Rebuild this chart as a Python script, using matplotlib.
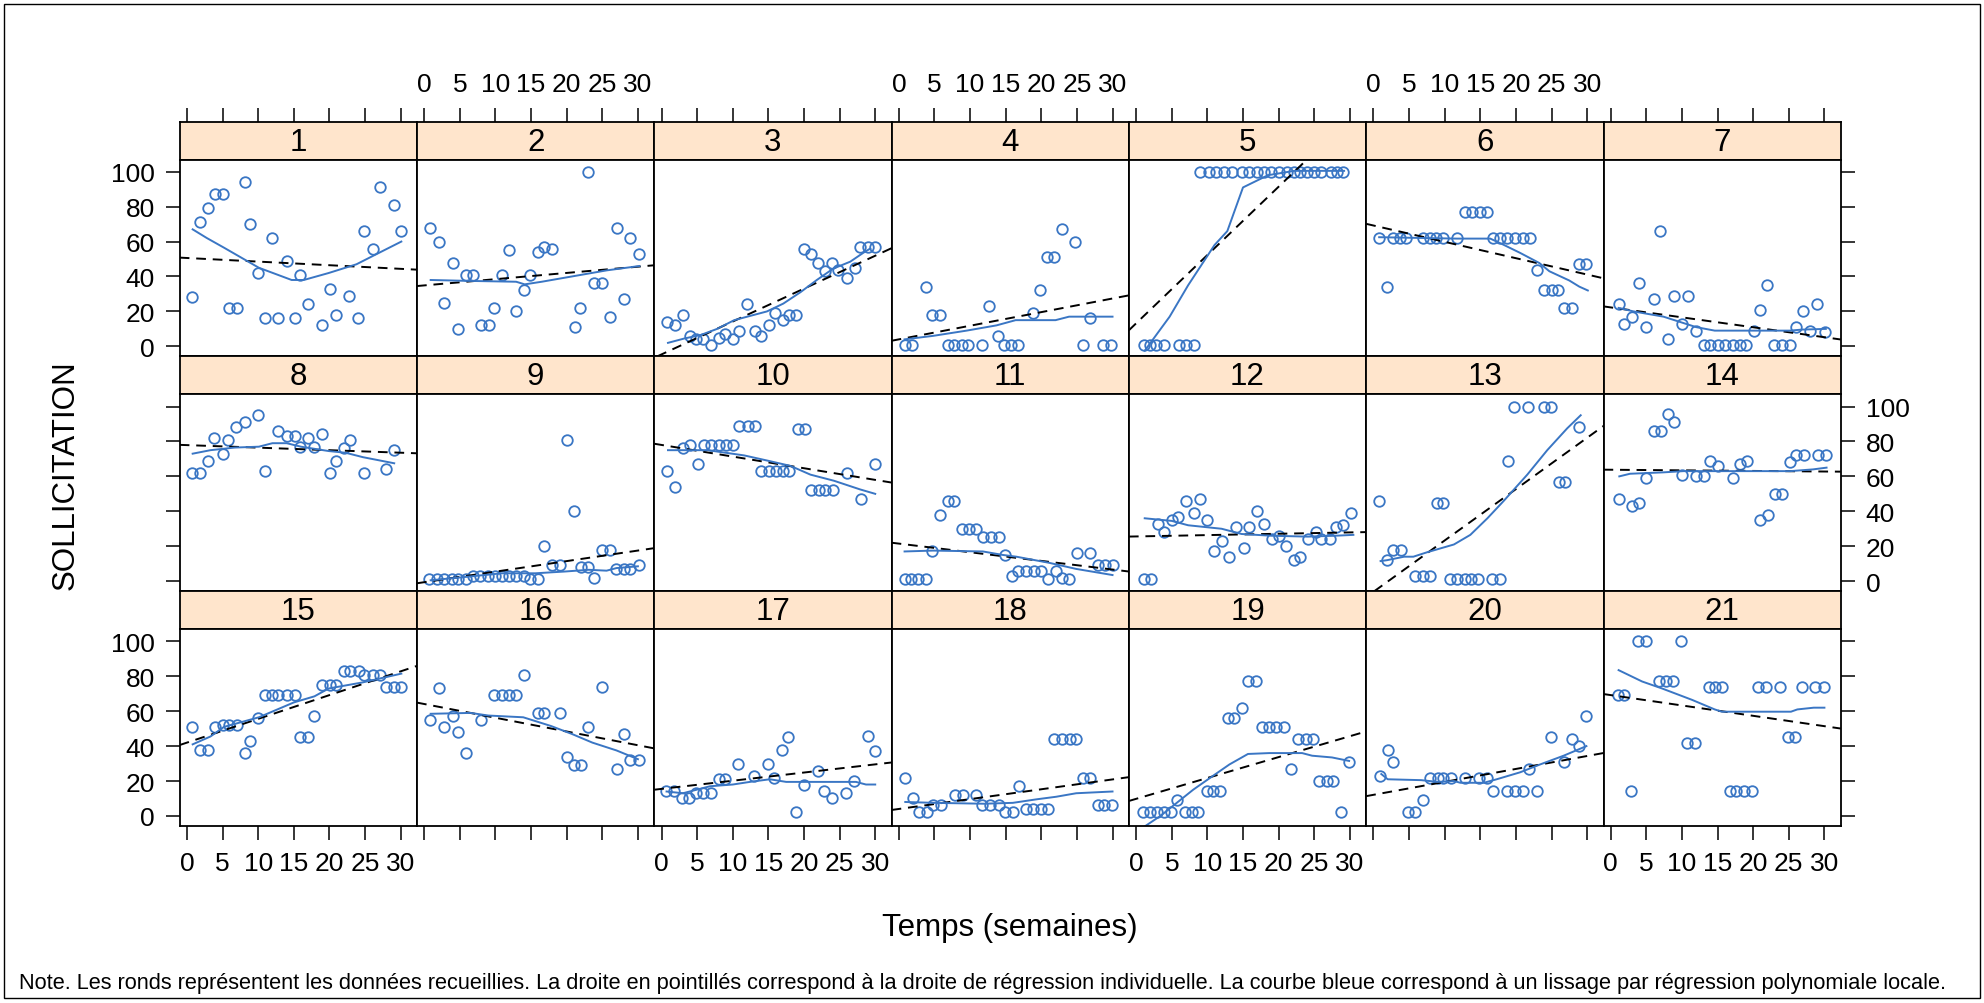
import matplotlib.pyplot as plt
from matplotlib.patches import Rectangle

plt.rcParams['font.family'] = ['Liberation Sans', 'DejaVu Sans']

BLEU = '#3a76c4'
STRIP = '#ffe5cc'
XLIM = (-1.02, 32.3)
YLIM = (-5.7, 107.0)

# points (semaine, sollicitation), un panneau par sujet
pts_01 = [(0.7, 28), (1.9, 71), (3.0, 79), (3.9, 87), (5.0, 87), (5.9, 22), (7.0, 22), (8.1, 94),
          (8.9, 70), (10.0, 42), (10.9, 16), (12.0, 62), (12.8, 16), (14.0, 49), (15.1, 16),
          (15.9, 41), (17.0, 24), (19.0, 12), (20.1, 33), (20.9, 18), (22.8, 29), (24.0, 16),
          (24.9, 66), (26.1, 56), (27.1, 91), (29.1, 81), (30.0, 66)]
pts_02 = [(0.8, 68), (2.0, 60), (2.8, 25), (4.0, 48), (4.8, 10), (5.9, 41), (6.8, 41), (7.9, 12),
          (9.1, 12), (9.8, 22), (10.9, 41), (11.9, 55), (12.9, 20), (14.0, 32), (14.8, 41),
          (16.0, 54), (16.8, 57), (18.0, 56), (21.1, 11), (21.9, 22), (23.0, 100), (23.9, 36),
          (25.0, 36), (26.1, 17), (27.0, 68), (28.1, 27), (28.9, 62), (30.1, 53)]
pts_03 = [(0.8, 14), (1.9, 12), (3.0, 18), (4.0, 6), (4.9, 4), (5.8, 4), (7.0, 1), (8.1, 5),
          (8.9, 7), (10.0, 4), (10.9, 9), (12.0, 24), (13.1, 9), (13.9, 6), (15.1, 12), (15.9, 19),
          (17.0, 15), (17.9, 18), (18.9, 18), (20.0, 56), (21.0, 53), (22.0, 48), (22.9, 43),
          (24.0, 48), (24.8, 44), (26.0, 39), (27.1, 45), (27.9, 57), (29.0, 57), (30.0, 57)]
pts_04 = [(0.8, 1), (1.9, 1), (3.8, 34), (4.7, 18), (5.8, 18), (6.9, 1), (7.8, 1), (8.9, 1),
          (9.7, 1), (11.7, 1), (12.7, 23), (13.9, 6), (14.8, 1), (15.8, 1), (16.7, 1), (18.9, 19),
          (19.8, 32), (20.8, 51), (21.8, 51), (22.9, 67), (24.8, 60), (25.9, 1), (26.8, 16),
          (28.7, 1), (29.8, 1)]
pts_05 = [(1.1, 1), (1.9, 1), (2.8, 1), (3.9, 1), (6.0, 1), (7.0, 1), (8.1, 1),
          (8.9, 100), (10.2, 100), (11.2, 100), (12.4, 100), (13.4, 100), (14.8, 100), (15.8, 100),
          (17.0, 100), (18.0, 100), (19.0, 100), (20.0, 100), (21.2, 100), (22.2, 100), (23.0, 100),
          (24.0, 100), (25.0, 100), (25.9, 100), (27.3, 100), (28.2, 100), (29.1, 100)]
pts_06 = [(0.8, 62), (1.9, 34), (2.8, 62), (3.7, 62), (4.6, 62), (6.9, 62), (7.9, 62), (8.8, 62),
          (9.7, 62), (11.7, 62), (12.9, 77), (13.9, 77), (14.9, 77), (15.9, 77), (16.8, 62),
          (17.8, 62), (18.8, 62), (19.9, 62), (21.0, 62), (22.0, 62), (22.9, 44), (24.0, 32),
          (25.0, 32), (25.9, 32), (26.8, 22), (27.9, 22), (28.8, 47), (29.9, 47)]
pts_07 = [(1.1, 24), (1.9, 13), (3.0, 17), (3.9, 36), (4.9, 11), (6.1, 27), (6.9, 66), (8.0, 4),
          (8.9, 29), (10.0, 13), (10.9, 29), (12.0, 9), (13.1, 1), (14.0, 1), (15.1, 1), (16.0, 1),
          (17.1, 1), (18.1, 1), (19.0, 1), (20.1, 9), (20.9, 21), (22.0, 35), (22.9, 1), (24.0, 1),
          (25.1, 1), (26.0, 11), (27.0, 20), (28.0, 9), (29.0, 24), (30.1, 8)]
pts_08 = [(0.7, 62), (1.9, 62), (3.0, 69), (3.8, 82), (5.0, 73), (5.8, 81), (6.9, 88), (8.1, 91),
          (10.0, 95), (10.9, 63), (12.8, 86), (14.0, 83), (15.1, 83), (15.9, 77), (17.0, 82),
          (17.9, 77), (19.0, 84), (20.1, 62), (20.9, 69), (22.0, 76), (22.9, 81), (24.9, 62),
          (28.0, 64), (29.1, 75)]
pts_09 = [(0.7, 1), (1.8, 1), (2.8, 1), (3.9, 1), (4.7, 1), (5.8, 1), (6.8, 3), (7.8, 3), (8.9, 3),
          (9.9, 3), (10.9, 3), (11.9, 3), (12.9, 3), (14.0, 3), (14.8, 1), (16.0, 1), (16.8, 20),
          (18.0, 9), (19.1, 9), (20.0, 81), (21.0, 40), (22.0, 8), (23.0, 8), (23.9, 2), (24.9, 18),
          (26.1, 18), (26.9, 7), (28.0, 7), (28.9, 7), (30.1, 9)]
pts_10 = [(0.8, 63), (1.9, 54), (3.0, 76), (4.0, 78), (5.1, 67), (5.9, 78), (7.0, 78), (8.1, 78),
          (9.0, 78), (10.1, 78), (10.9, 89), (12.1, 89), (13.1, 89), (14.0, 63), (15.1, 63),
          (16.0, 63), (17.1, 63), (17.9, 63), (19.1, 87), (20.2, 87), (21.0, 52), (22.1, 52),
          (22.9, 52), (24.1, 52), (26.0, 62), (28.0, 47), (30.0, 67)]
pts_11 = [(0.8, 1), (1.7, 1), (2.7, 1), (3.8, 1), (4.7, 17), (5.8, 38), (6.9, 46), (7.8, 46),
          (8.9, 30), (9.9, 30), (10.9, 30), (11.8, 25), (12.9, 25), (14.0, 25), (14.9, 15),
          (15.9, 3), (16.7, 6), (17.8, 6), (19.0, 6), (20.0, 6), (21.0, 1), (22.0, 6), (22.9, 2),
          (23.9, 1), (25.0, 16), (26.8, 16), (28.0, 9), (28.9, 9), (30.1, 9)]
pts_12 = [(1.1, 1), (2.1, 1), (3.1, 33), (3.9, 28), (5.0, 35), (5.9, 37), (7.0, 46), (8.1, 39),
          (8.9, 47), (10.0, 35), (10.9, 17), (12.0, 23), (13.1, 14), (14.0, 31), (15.1, 19),
          (15.9, 31), (17.0, 40), (17.9, 33), (19.1, 24), (20.1, 26), (21.0, 20), (22.1, 12),
          (23.0, 14), (24.1, 24), (25.2, 28), (26.0, 24), (27.2, 24), (28.0, 31), (29.1, 32),
          (30.2, 39)]
pts_13 = [(0.8, 46), (1.9, 12), (2.8, 18), (3.9, 18), (5.8, 3), (6.9, 3), (7.9, 3), (8.9, 45),
          (9.8, 45), (10.8, 1), (11.7, 1), (12.8, 1), (13.7, 1), (14.7, 1), (16.7, 1), (17.8, 1),
          (18.9, 69), (19.8, 100), (21.7, 100), (23.9, 100), (24.9, 100), (26.0, 57), (26.9, 57),
          (28.8, 88)]
pts_14 = [(1.1, 47), (3.0, 43), (3.9, 45), (5.0, 59), (6.1, 86), (7.0, 86), (8.1, 96), (8.9, 91),
          (10.0, 61), (12.0, 60), (13.1, 60), (14.0, 69), (15.1, 66), (17.1, 59), (18.2, 67),
          (19.1, 69), (21.0, 35), (22.1, 38), (23.0, 50), (24.1, 50), (25.2, 68), (26.0, 72),
          (27.2, 72), (29.1, 72), (30.2, 72)]
pts_15 = [(0.7, 51), (1.9, 38), (3.0, 38), (3.9, 51), (5.0, 52), (5.9, 52), (7.0, 52), (8.1, 36),
          (8.9, 43), (10.0, 56), (10.9, 69), (12.0, 69), (12.8, 69), (14.0, 69), (15.1, 69),
          (15.9, 45), (17.0, 45), (17.9, 57), (19.0, 75), (20.1, 75), (20.9, 75), (22.1, 83),
          (22.9, 83), (24.1, 83), (24.9, 81), (26.1, 81), (27.1, 81), (28.0, 74), (29.1, 74),
          (30.0, 74)]
pts_16 = [(0.8, 55), (2.0, 73), (2.8, 51), (4.0, 57), (4.8, 48), (5.9, 36), (7.9, 55), (9.8, 69),
          (10.9, 69), (11.9, 69), (12.9, 69), (14.0, 81), (16.0, 59), (16.8, 59), (19.1, 59),
          (20.0, 34), (21.0, 29), (22.0, 29), (23.0, 51), (25.0, 74), (27.0, 27), (28.1, 47),
          (28.9, 32), (30.1, 32)]
pts_17 = [(0.6, 14), (1.7, 14), (2.9, 10), (3.8, 10), (4.9, 13), (5.8, 13), (6.9, 13), (8.0, 21),
          (8.9, 21), (10.8, 30), (13.0, 23), (15.0, 30), (15.8, 22), (16.9, 38), (17.8, 45),
          (18.9, 2), (20.0, 18), (22.0, 26), (22.8, 14), (23.9, 10), (25.9, 13), (27.0, 20),
          (29.0, 46), (29.9, 37)]
pts_18 = [(0.8, 22), (2.0, 10), (2.8, 2), (4.0, 2), (4.8, 6), (5.9, 6), (7.9, 12), (9.0, 12),
          (10.9, 12), (11.7, 6), (12.8, 6), (14.0, 6), (14.9, 2), (16.0, 2), (16.8, 17), (17.8, 4),
          (18.8, 4), (19.9, 4), (20.9, 4), (21.8, 44), (22.9, 44), (24.0, 44), (24.9, 44),
          (25.9, 22), (26.9, 22), (27.9, 6), (28.8, 6), (29.9, 6)]
pts_19 = [(1.0, 2), (1.9, 2), (2.9, 2), (3.9, 2), (4.9, 2), (5.7, 9), (6.8, 2), (7.8, 2), (8.7, 2),
          (9.9, 14), (10.8, 14), (11.8, 14), (12.9, 56), (13.8, 56), (14.9, 62), (15.7, 77),
          (16.8, 77), (17.6, 51), (18.7, 51), (19.7, 51), (20.7, 51), (21.8, 27), (22.7, 44),
          (23.8, 44), (24.9, 44), (25.7, 20), (26.8, 20), (27.7, 20), (28.8, 2), (29.9, 31)]
pts_20 = [(0.9, 23), (2.0, 38), (2.8, 31), (4.8, 2), (5.9, 2), (7.0, 9), (7.9, 22), (9.0, 22),
          (9.8, 22), (10.9, 22), (12.9, 22), (14.8, 22), (16.0, 22), (16.8, 14), (18.8, 14),
          (19.9, 14), (21.0, 14), (21.8, 27), (22.9, 14), (24.9, 45), (26.8, 31), (27.9, 44),
          (28.8, 40), (29.9, 57)]
pts_21 = [(1.0, 69), (1.9, 69), (2.9, 14), (3.8, 100), (4.9, 100), (6.8, 77), (7.8, 77), (8.8, 77),
          (9.9, 100), (10.7, 42), (11.8, 42), (13.8, 74), (14.7, 74), (15.6, 74), (16.7, 14),
          (17.6, 14), (18.7, 14), (19.9, 14), (20.7, 74), (21.8, 74), (23.8, 74), (24.9, 45),
          (25.8, 45), (26.8, 74), (28.7, 74), (29.9, 74)]

# courbes de lissage (sommets)
liss_01 = [(0.8, 67), (2.8, 62), (5.2, 56.5), (10.1, 45), (14.7, 38), (16.4, 38), (19.9, 42),
           (23.8, 47), (26.7, 53), (30.1, 60)]
liss_02 = [(0.9, 38), (6.0, 37.5), (12.9, 37), (14.1, 35.5), (16.5, 37), (20.7, 40), (25.6, 43.5),
           (30.2, 46)]
liss_03 = [(0.9, 2), (3.2, 4.5), (5.5, 6.5), (7.8, 10), (10.2, 15), (12.5, 17.5), (14.8, 20),
           (17.1, 24.5), (19.5, 31), (21.8, 38), (24.1, 44.5), (26.5, 48.5), (28.3, 53.5), (29.3, 56)]
liss_04 = [(0.8, 4), (4.8, 6), (9.5, 9), (13.7, 12), (16.4, 15), (22.0, 15), (23.9, 17), (30.0, 17)]
liss_05 = [(1.2, -2.5), (4.7, 17), (7.3, 35), (11.0, 58), (12.8, 66), (15.0, 91), (18.5, 98),
           (22.2, 100.5), (29.2, 100.5)]
liss_06 = [(0.8, 62.5), (11.7, 61.7), (16.4, 61.7), (18.2, 58.3), (20.6, 53.5), (23.3, 47.7),
           (24.7, 43), (27.5, 37.7), (28.9, 34.2), (30.1, 32)]
liss_07 = [(1.1, 22), (3.2, 20), (7.4, 17), (9.7, 14), (12.0, 11), (14.6, 9), (19.0, 9), (25.1, 9),
           (26.9, 9.6), (30.2, 10)]
liss_08 = [(0.8, 73), (3.3, 75), (6.7, 76.5), (10.1, 77), (12.0, 79), (14.0, 79), (16.0, 77),
           (19.9, 74.5), (22.3, 73.5), (24.7, 71), (29.1, 67.5)]
liss_09 = [(0.9, 0.5), (6.0, 2.5), (10.9, 4.5), (15.6, 4.5), (19.7, 5.5), (23.1, 6.5), (25.6, 6),
           (27.0, 7.5), (30.0, 8.5)]
liss_10 = [(0.9, 75), (6.5, 75), (11.6, 72), (14.9, 69), (18.1, 66), (20.9, 61), (24.2, 57.5),
           (27.9, 52.5), (30.0, 50)]
liss_11 = [(0.8, 17), (4.8, 17.5), (11.8, 17), (14.6, 15), (16.5, 14), (21.1, 10.5), (24.9, 7),
           (30.0, 3.5)]
liss_12 = [(1.2, 36), (5.0, 34.5), (7.3, 32), (12.0, 30), (14.8, 27), (19.0, 26), (24.1, 25.5),
           (27.9, 26), (30.5, 26.5)]
liss_13 = [(1.0, 11.5), (1.9, 12), (4.3, 14), (5.6, 14), (7.5, 16.5), (11.3, 21), (13.6, 26.5),
           (16.0, 36), (18.3, 46), (21.6, 61), (24.4, 75), (27.2, 87.5), (29.1, 95)]
liss_14 = [(1.2, 60), (2.7, 61.5), (7.4, 62.3), (10.2, 63), (21.4, 63), (25.2, 63), (28.4, 64),
           (30.3, 65)]
liss_15 = [(0.8, 41), (3.3, 45.5), (5.2, 51), (10.1, 56.5), (15.0, 65), (17.9, 68.5), (19.9, 73),
           (24.7, 76.5), (30.1, 81.5)]
liss_16 = [(0.9, 58.5), (6.5, 59), (9.0, 57.5), (13.9, 56.5), (17.8, 51.5), (20.7, 47),
           (23.6, 42), (27.0, 37.5), (30.0, 32.5)]
liss_17 = [(0.7, 14), (3.0, 13), (6.8, 17), (10.0, 18), (12.4, 19.5), (15.2, 21), (17.5, 19.5),
           (21.7, 19.5), (27.3, 19.5), (28.7, 18), (30.0, 18)]
liss_18 = [(0.9, 8), (4.9, 7.5), (11.9, 7), (16.0, 7.5), (19.3, 9.5), (22.1, 11), (24.9, 13),
           (30.0, 14)]
liss_19 = [(1.2, -6), (3.4, 0), (5.7, 7.5), (8.0, 15), (10.8, 23), (13.1, 29.5), (15.7, 35.5),
           (18.7, 36), (23.3, 36), (24.7, 34.5), (27.5, 33.5), (29.9, 31.5)]
liss_20 = [(1.1, 24), (2.0, 21), (6.7, 20.5), (9.0, 19.5), (11.3, 20), (12.2, 19), (15.5, 19),
           (17.3, 21), (20.6, 25), (23.4, 29.5), (26.7, 34.5), (29.9, 40)]
liss_21 = [(1.1, 83.5), (4.4, 77), (7.2, 73), (11.4, 66.5), (14.6, 61), (15.6, 59.7), (25.3, 59.7),
           (26.2, 61), (28.5, 62), (30.0, 62)]

# droites de regression individuelles : ordonnee a l'origine et pente
reg_a = [50.6, 34.9, -4.6, 4.0, 13.2, 69.2, 22.3, 77.9, -0.6, 78.0, 21.5,
         25.6, -6.1, 63.8, 42.0, 64.1, 15.5, 4.0, 9.8, 12.1, 69.2]
reg_b = [-0.207, 0.357, 1.883, 0.78, 3.91, -0.936, -0.569, -0.145, 0.604, -0.667, -0.495,
         0.077, 2.94, -0.034, 1.36, -0.787, 0.468, 0.564, 1.195, 0.741, -0.593]

points = [pts_01, pts_02, pts_03, pts_04, pts_05, pts_06, pts_07, pts_08, pts_09, pts_10, pts_11,
          pts_12, pts_13, pts_14, pts_15, pts_16, pts_17, pts_18, pts_19, pts_20, pts_21]
lissages = [liss_01, liss_02, liss_03, liss_04, liss_05, liss_06, liss_07, liss_08, liss_09,
            liss_10, liss_11, liss_12, liss_13, liss_14, liss_15, liss_16, liss_17, liss_18,
            liss_19, liss_20, liss_21]

W, H = 1984.0, 1004.0
fig = plt.figure(figsize=(W / 100, H / 100), dpi=100)


def boite(x, y, w, h):
    return [x / W, 1 - (y + h) / H, w / W, h / H]


x0, pw = 179.7, 237.3
y0, rh, sh = 122.5, 234.8, 38.0
ph = rh - sh
ticks = dict(direction='out', length=10, width=1.1, labelsize=19, pad=8)

for k in range(21):
    r, c = divmod(k, 7)
    left = x0 + c * pw
    top = y0 + r * rh

    st = fig.add_axes(boite(left, top, pw, sh))
    st.set_facecolor(STRIP)
    st.set_xlim(XLIM)
    st.set_yticks([])
    st.set_xticks(range(0, 31, 5))
    st.tick_params(bottom=False, labelbottom=False, top=(r == 0),
                   labeltop=(r == 0 and c % 2 == 1), **ticks)
    st.text(0.5, 0.47, str(k + 1), transform=st.transAxes, ha='center', va='center',
            fontsize=22.5)

    ax = fig.add_axes(boite(left, top + sh, pw, ph))
    ax.set_xlim(XLIM)
    ax.set_ylim(YLIM)
    ax.set_xticks(range(0, 31, 5))
    ax.set_yticks(range(0, 101, 20))
    ax.tick_params(bottom=(r == 2), labelbottom=(r == 2 and c % 2 == 0),
                   top=False, labeltop=False,
                   left=(c == 0), labelleft=(c == 0 and r != 1),
                   right=(c == 6), labelright=(c == 6 and r == 1), **ticks)
    for a in (st, ax):
        for s in a.spines.values():
            s.set_linewidth(1.3)

    xs, ys = zip(*points[k])
    ax.plot(xs, ys, 'o', mfc='none', mec=BLEU, ms=7.6, mew=1.3)
    ax.axline((0, reg_a[k]), slope=reg_b[k], color='black', lw=1.4, dashes=(5, 3.5))
    lx, ly = zip(*lissages[k])
    ax.plot(lx, ly, color=BLEU, lw=1.4)

fig.text(66 / W, 1 - 475 / H, 'SOLLICITATION', rotation=90, ha='center', va='center',
         fontsize=22.5)
fig.text(1010 / W, 1 - 928 / H, 'Temps (semaines)', ha='center', va='center', fontsize=22.5)
fig.text(19 / W, 1 - 984 / H,
         "Note. Les ronds représentent les données recueillies. La droite en pointillés "
         "correspond à la droite de régression individuelle. La courbe bleue correspond "
         "à un lissage par régression polynomiale locale.",
         ha='left', va='center', fontsize=15.7)
fig.add_artist(Rectangle((4 / W, 5 / H), (W - 8) / W, (H - 10) / H, fill=False,
                         lw=1.0, ec='black', transform=fig.transFigure))

fig.savefig('out.png', dpi=100)
